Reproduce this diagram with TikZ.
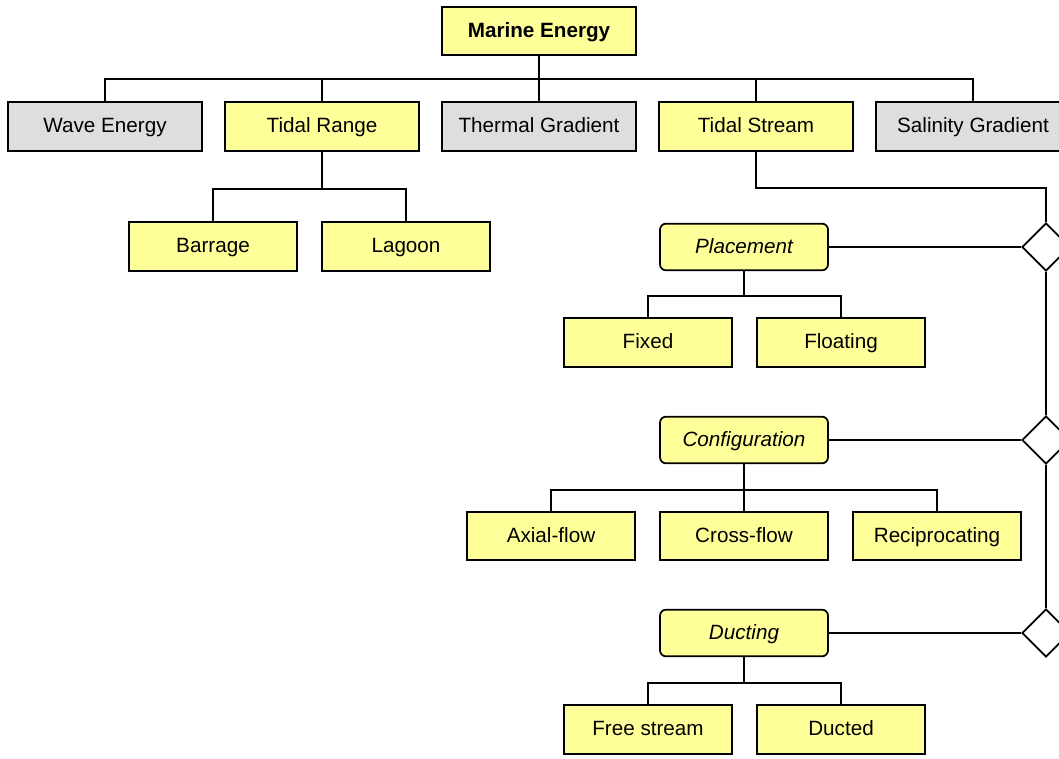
\documentclass[tikz,border=0pt]{standalone}
\usepackage{fontspec}
\setmainfont{Liberation Sans}
\usetikzlibrary{shapes.geometric}
\definecolor{boxyellow}{rgb}{1.000000,1.000000,0.600000}
\definecolor{boxgray}{rgb}{0.870000,0.870000,0.870000}
\begin{document}
\begin{tikzpicture}[x=0.75pt,y=-0.75pt,line width=1.3pt,
    yellowbox/.style={draw,fill=boxyellow,minimum width=126pt,minimum height=36.5pt,inner sep=0pt,text height=11pt,text depth=2pt},
    widebox/.style={yellowbox,minimum width=145.5pt},
    graybox/.style={widebox,fill=boxgray},
    groupbox/.style={yellowbox,rounded corners=4.5pt,minimum height=35pt,font=\itshape},
    joint/.style={draw,diamond,fill=white,minimum width=36pt,minimum height=36pt,inner sep=0pt}]
                    \useasboundingbox (0,0) rectangle (1059,758);
                    \clip (0,0) rectangle (1059,758);
                    {\fontsize{15.5}{18}\selectfont
                    
                    % Marking root
                    \node [widebox,font=\bfseries] (marine) at (539,31) {Marine Energy};
                    
                    % Marking first level
                    \node [graybox] (wave) at (105,126.5) {Wave Energy};
                    \node [widebox] (tidalrange) at (322,126.5) {Tidal Range};
                    \node [graybox] (thermal) at (539,126.5) {Thermal Gradient};
                    \node [widebox] (tidalstream) at (756,126.5) {Tidal Stream};
                    \node [graybox] (salinity) at (973,126.5) {Salinity Gradient};
                    \coordinate (topbus) at (539,79);
                    
                    % Drawing line root level
                    \draw (marine.south) -- (thermal.north);
                    \draw (wave.north) |- (topbus) -| (salinity.north);
                    \draw (tidalrange.north) -- (tidalrange.north |- topbus);
                    \draw (tidalstream.north) -- (tidalstream.north |- topbus);
                    
                    % Marking tidal range
                    \node [yellowbox] (barrage) at (213,246.5) {Barrage};
                    \node [yellowbox] (lagoon) at (406,246.5) {Lagoon};
                    \coordinate (rangebus) at (322,189);
                    \draw (tidalrange.south) -- (rangebus);
                    \draw (barrage.north) |- (rangebus) -| (lagoon.north);
                    
                    % Marking joints
                    \node [joint] (jplace) at (1046,247) {};
                    \node [joint] (jconfig) at (1046,440) {};
                    \node [joint] (jduct) at (1046,633) {};
                    \draw (tidalstream.south) -- ++(0,36) -| (jplace.north);
                    \draw (jplace.south) -- (jconfig.north);
                    \draw (jconfig.south) -- (jduct.north);
                    
                    % Marking placement
                    \node [groupbox] (placement) at (744,247) {Placement};
                    \node [yellowbox] (fixed) at (648,342.5) {Fixed};
                    \node [yellowbox] (floating) at (841,342.5) {Floating};
                    \coordinate (placebus) at (744,296);
                    \draw (placement.east) -- (jplace.west);
                    \draw (placement.south) -- (placebus);
                    \draw (fixed.north) |- (placebus) -| (floating.north);
                    
                    % Marking configuration
                    \node [groupbox] (config) at (744,440) {Configuration};
                    \node [yellowbox] (axial) at (551,536) {Axial-flow};
                    \node [yellowbox] (crossflow) at (744,536) {Cross-flow};
                    \node [yellowbox] (recip) at (937,536) {Reciprocating};
                    \coordinate (configbus) at (744,490);
                    \draw (config.east) -- (jconfig.west);
                    \draw (config.south) -- (crossflow.north);
                    \draw (axial.north) |- (configbus) -| (recip.north);
                    
                    % Marking ducting
                    \node [groupbox] (ducting) at (744,633) {Ducting};
                    \node [yellowbox] (freestream) at (648,729.5) {Free stream};
                    \node [yellowbox] (ducted) at (841,729.5) {Ducted};
                    \coordinate (ductbus) at (744,683);
                    \draw (ducting.east) -- (jduct.west);
                    \draw (ducting.south) -- (ductbus);
                    \draw (freestream.north) |- (ductbus) -| (ducted.north);
                    }
\end{tikzpicture}
\end{document}
